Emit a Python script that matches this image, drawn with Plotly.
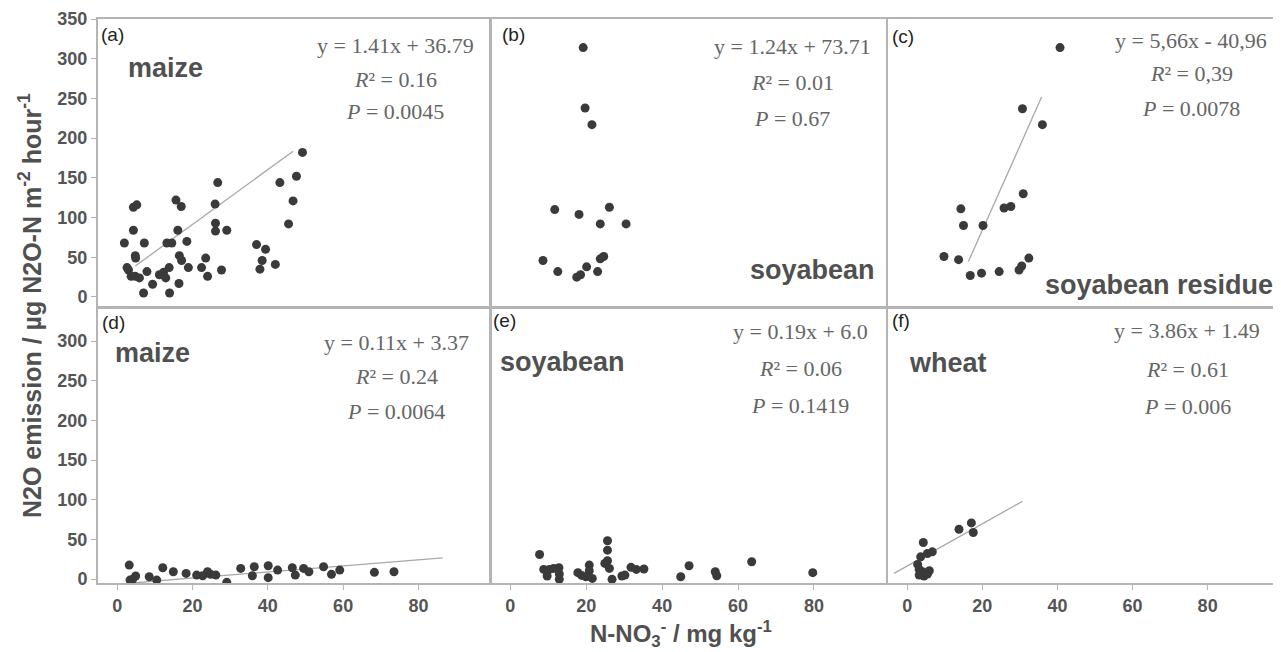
import plotly.graph_objects as go

# ---------------- data ----------------
a_x = [1.9, 2.6, 3.0, 3.7, 4.3, 4.3, 5.2, 4.8, 4.9, 4.8, 5.9, 7.2, 7.0, 7.9, 9.4, 11.2, 12.3, 12.9,
       13.8, 13.2, 14.5, 13.9, 15.6, 17.0, 16.1, 16.4, 16.5, 17.1, 18.5, 18.9, 22.4, 23.5, 24.0, 26.0,
       26.7, 26.1, 26.1, 29.1, 27.7, 37.0, 39.4, 38.5, 37.9, 42.0, 43.2, 45.5, 46.7, 47.6, 49.2]
a_y = [68, 37, 34, 26, 84, 113, 116, 52, 49, 26, 24, 68, 5, 32, 16, 28, 31, 24,
       37, 68, 68, 5, 122, 114, 84, 17, 52, 46, 70, 37, 37, 49, 26, 117,
       144, 93, 83, 84, 34, 66, 60, 46, 35, 41, 144, 92, 121, 152, 182]
a_fit_x = [4.8, 46.7]
a_fit_y = [39, 183.5]

b_x = [19.2, 19.7, 21.5, 11.7, 18.1, 26.1, 23.7, 30.5, 8.6, 12.5, 17.5, 18.5, 20.1, 23.0, 23.7, 24.6]
b_y = [314, 238, 217, 110, 104, 113, 92, 92, 46, 32, 25, 28, 38, 32, 48, 51]

c_x = [40.7, 30.7, 36.0, 30.9, 25.8, 27.6, 14.3, 15.0, 20.2, 9.8, 13.7, 16.8, 19.8, 24.5, 29.8, 30.5, 32.4]
c_y = [314, 237, 217, 130, 112, 114, 111, 90, 90, 51, 47, 27, 30, 32, 34, 39, 49]
c_fit_x = [16.3, 35.8]
c_fit_y = [44.6, 251.7]

d_x = [3.2, 3.4, 4.1, 4.9, 8.5, 10.5, 12.1, 14.9, 18.3, 21.1, 22.7, 24.0, 24.8, 26.2, 29.1,
       32.8, 35.9, 36.4, 40.1, 40.1, 42.6, 46.5, 47.3, 49.5, 50.9, 54.8, 56.9, 59.1, 68.3, 73.5]
d_y = [17.6, -1.3, -0.4, 3.8, 2.9, -1.3, 14.2, 9.2, 7.1, 5.0, 4.2, 9.2, 5.9, 5.0, -4.2,
       13.4, 4.2, 15.5, 16.8, 1.7, 11.3, 14.2, 5.0, 13.4, 9.2, 15.5, 5.9, 11.3, 8.4, 9.2]
d_fit_x = [3.9, 86.4]
d_fit_y = [-5.0, 26.8]

e_x = [7.7, 8.8, 9.7, 10.3, 11.4, 12.8, 12.9, 12.9, 17.8, 18.8, 19.9, 20.8, 20.8, 21.6, 24.9, 25.6,
       25.6, 25.6, 26.1, 26.8, 29.4, 30.2, 31.8, 33.2, 35.2, 44.9, 47.1, 54.0, 54.4, 63.6, 79.7]
e_y = [31, 12.1, 3.8, 12.1, 13.4, 14.2, 6.3, -0.4, 8.0, 4.6, 2.9, 17.6, 10.5, 0.8, 19.7, 48.2,
       36.4, 23.0, 13.4, -0.4, 3.8, 5.0, 14.7, 12.1, 12.6, 2.9, 16.8, 9.2, 4.2, 21.8, 8.0]

f_x = [4.3, 3.6, 2.8, 5.4, 6.7, 3.2, 4.1, 5.9, 3.2, 4.5, 5.4, 13.8, 17.1, 17.6]
f_y = [46.1, 28, 18.4, 32.2, 34.3, 12.1, 9.2, 10.5, 5.0, 3.8, 6.3, 62.8, 70.8, 58.6]
f_fit_x = [-3.5, 30.7]
f_fit_y = [7.1, 98]

panel_tags = ["(a)", "(b)", "(c)", "(d)", "(e)", "(f)"]
crops = ["maize", "soyabean", "soyabean residue", "maize", "soyabean", "wheat"]
equations = ["y = 1.41x + 36.79", "y = 1.24x + 73.71", "y = 5,66x - 40,96",
             "y = 0.11x + 3.37", "y = 0.19x + 6.0", "y = 3.86x + 1.49"]
r2_vals = ["0.16", "0.01", "0,39", "0.24", "0.06", "0.61"]
p_vals = ["0.0045", "0.67", "0.0078", "0.0064", "0.1419", "0.006"]

y_ticks_top = [0, 50, 100, 150, 200, 250, 300, 350]
y_ticks_bot = [0, 50, 100, 150, 200, 250, 300]
x_ticks = [0, 20, 40, 60, 80]

# ---------------- layout helpers ----------------
W, H = 1281, 652
OFF = 8  # page body margin offset
def X(px):
    return (px - OFF) / W
def Y(py):
    return 1 - (py - OFF) / H

col_dom = [[X(98), X(490)], [X(491), X(886)], [X(888), X(1279)]]
row_dom = [[Y(307), Y(19)], [Y(583), Y(308)]]

MARK = "#3a3a3a"
LINE = "#a8a8a8"
FRAME = "#b4b4b4"
TICKC = "#555555"

fig = go.Figure()

series = [(a_x, a_y, a_fit_x, a_fit_y), (b_x, b_y, None, None), (c_x, c_y, c_fit_x, c_fit_y),
          (d_x, d_y, d_fit_x, d_fit_y), (e_x, e_y, None, None), (f_x, f_y, f_fit_x, f_fit_y)]

for i, (sx, sy, fx, fy) in enumerate(series):
    k = "" if i == 0 else str(i + 1)
    if fx is not None:
        fig.add_trace(go.Scatter(x=fx, y=fy, mode="lines", xaxis="x" + k, yaxis="y" + k,
                                 line=dict(color=LINE, width=1.3), showlegend=False, hoverinfo="skip"))
    fig.add_trace(go.Scatter(x=sx, y=sy, mode="markers", xaxis="x" + k, yaxis="y" + k,
                             marker=dict(color=MARK, size=9, line=dict(width=0)), showlegend=False))

tickfont = dict(family="Liberation Sans, Arial", size=18, color=TICKC, weight="bold")

for i in range(6):
    r, c = divmod(i, 3)
    k = "" if i == 0 else str(i + 1)
    xa = dict(domain=col_dom[c], anchor="y" + k, range=[-5.1, 99], showgrid=False, zeroline=False,
              showline=True, mirror=True, linecolor=FRAME, linewidth=2, automargin=False,
              tickvals=x_ticks, tickfont=tickfont)
    if r == 0:
        xa.update(showticklabels=False, ticks="")
    else:
        xa.update(ticks="outside", ticklen=5, tickcolor=FRAME, tickwidth=1)
    ya = dict(domain=row_dom[r], anchor="x" + k, showgrid=False, zeroline=False, automargin=False,
              showline=True, mirror=True, linecolor=FRAME, linewidth=2, tickfont=tickfont)
    if r == 0:
        ya.update(range=[-12.6, 350], tickvals=y_ticks_top)
    else:
        ya.update(range=[-5, 341.7], tickvals=y_ticks_bot)
    if c == 0:
        ya.update(ticks="outside", ticklen=5, tickcolor=FRAME, tickwidth=1)
    else:
        ya.update(showticklabels=False, ticks="")
    fig.layout["xaxis" + k] = xa
    fig.layout["yaxis" + k] = ya

ann = []
tag_pos = [(99, 35), (500, 35), (890, 37), (100, 322), (491, 320), (890, 320)]
crop_pos = [(126, 68, "left"), (877, 270, "right"), (1275, 285, "right"),
            (113, 353, "left"), (498, 362, "left"), (907, 363, "left")]
eq_pos = [(395, [45, 79, 112]), (792, [47, 82, 118]), (1191, [40, 74, 108]),
          (396, [342, 376, 411]), (800, [331, 368, 405]), (1187, [330, 369, 406])]

serif = dict(family="Liberation Serif, Times New Roman", size=22, color="#666666")
for i in range(6):
    tx, ty = tag_pos[i]
    ann.append(dict(x=X(tx), y=Y(ty), xref="paper", yref="paper", text=panel_tags[i], showarrow=False,
                    xanchor="left", yanchor="middle",
                    font=dict(family="Liberation Sans, Arial", size=19, color="#222222")))
    cx, cy, anc = crop_pos[i]
    ann.append(dict(x=X(cx), y=Y(cy), xref="paper", yref="paper", text=crops[i], showarrow=False,
                    xanchor=anc, yanchor="middle",
                    font=dict(family="Liberation Sans, Arial", size=27, color="#505050", weight="bold")))
    ex, eys = eq_pos[i]
    lines = [equations[i], "<i>R</i>² = " + r2_vals[i], "<i>P</i> = " + p_vals[i]]
    for txt, ey in zip(lines, eys):
        ann.append(dict(x=X(ex), y=Y(ey), xref="paper", yref="paper", text=txt, showarrow=False,
                        xanchor="center", yanchor="middle", font=serif))

ann.append(dict(x=X(30), y=Y(306), xref="paper", yref="paper", textangle=-90, showarrow=False,
                text="N2O emission / µg N2O-N m<sup>-2</sup> hour<sup>-1</sup>",
                xanchor="center", yanchor="middle",
                font=dict(family="Liberation Sans, Arial", size=25, color="#505050", weight="bold")))
ann.append(dict(x=X(681), y=Y(634), xref="paper", yref="paper", showarrow=False,
                text="N-NO<sub>3</sub><sup>-</sup> / mg kg<sup>-1</sup>",
                xanchor="center", yanchor="middle",
                font=dict(family="Liberation Sans, Arial", size=24, color="#505050", weight="bold")))

fig.update_layout(width=W, height=H, margin=dict(l=0, r=0, t=0, b=0, pad=0, autoexpand=False),
                  paper_bgcolor="white", plot_bgcolor="white", annotations=ann, showlegend=False)

fig.write_html("out.html")
